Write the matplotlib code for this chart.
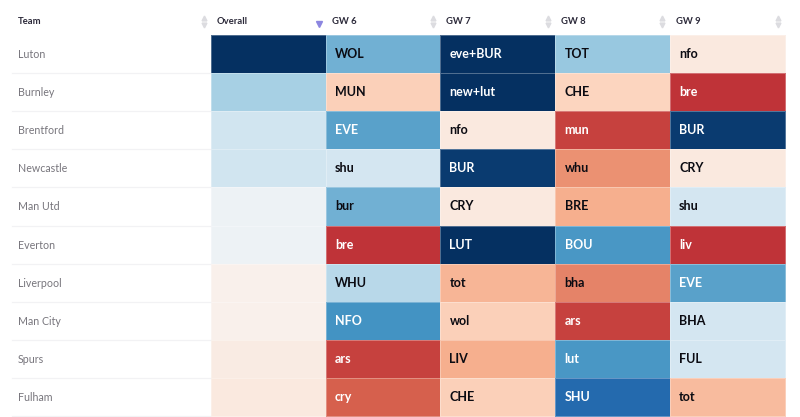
import numpy as np
import matplotlib
matplotlib.use("Agg")
import matplotlib.pyplot as plt

plt.rcParams['font.family'] = ['Lato', 'DejaVu Sans']

teams = ["Luton", "Burnley", "Brentford", "Newcastle", "Man Utd",
         "Everton", "Liverpool", "Man City", "Spurs", "Fulham"]
columns = ["Overall", "GW 6", "GW 7", "GW 8", "GW 9"]

# ease score, 0 = hard (red), 1 = easy (navy)
overall_score = [1.0, 0.665, 0.60, 0.60, 0.525, 0.525, 0.475, 0.475, 0.46, 0.45]

gw6_fixtures = ["WOL", "MUN", "EVE", "shu", "bur", "bre", "WHU", "NFO", "ars", "cry"]
gw6_score = [0.74, 0.38, 0.77, 0.59, 0.74, 0.14, 0.64, 0.80, 0.16, 0.20]

gw7_fixtures = ["eve+BUR", "new+lut", "nfo", "BUR", "CRY", "LUT", "tot", "wol", "LIV", "CHE"]
gw7_score = [1.0, 1.0, 0.45, 0.98, 0.45, 1.0, 0.33, 0.38, 0.32, 0.38]

gw8_fixtures = ["TOT", "CHE", "mun", "whu", "BRE", "BOU", "bha", "ars", "lut", "SHU"]
gw8_score = [0.69, 0.39, 0.16, 0.27, 0.32, 0.79, 0.25, 0.16, 0.79, 0.89]

gw9_fixtures = ["nfo", "bre", "BUR", "CRY", "shu", "liv", "EVE", "BHA", "FUL", "tot"]
gw9_score = [0.45, 0.14, 0.98, 0.45, 0.59, 0.14, 0.77, 0.59, 0.59, 0.34]

# layout in pixels
x_edges = np.array([210.5, 325.5, 440, 555, 669.5, 785])
y_edges = 35 + 38.1 * np.arange(len(teams) + 1)

fig = plt.figure(figsize=(8, 4.17), dpi=100)
ax = fig.add_axes([0, 0, 1, 1])
ax.set_xlim(0, 800)
ax.set_ylim(417, 0)
ax.axis("off")

scores = np.column_stack([overall_score, gw6_score, gw7_score, gw8_score, gw9_score])
fixtures = [gw6_fixtures, gw7_fixtures, gw8_fixtures, gw9_fixtures]

ax.pcolormesh(x_edges, y_edges, scores, cmap="RdBu", vmin=0, vmax=1,
              edgecolors=(1, 1, 1, 0.3), linewidth=0.5)

for i, team in enumerate(teams):
    y_mid = (y_edges[i] + y_edges[i + 1]) / 2
    ax.text(18, y_mid + 0.5, team, fontsize=7.7, color="#77757c", va="center", ha="left")
    ax.plot([12, 210], [y_edges[i + 1], y_edges[i + 1]], color="#f2f2f4", lw=0.9)
    for j, col in enumerate(fixtures):
        s = scores[i, j + 1]
        txt_color = "white" if (s > 0.76 or s < 0.22) else "#0b0b12"
        ax.text(x_edges[j + 1] + 9.5, y_mid, col[i], fontsize=9, fontweight="bold",
                color=txt_color, va="center", ha="left")

# header row
ax.text(18, 21, "Team", fontsize=6.8, fontweight="bold", color="#2c2a3a", va="center")
ax.plot([204], [18], marker="^", ms=3.5, color="#dcdce0", ls="none")
ax.plot([204], [24.5], marker="v", ms=3.5, color="#dcdce0", ls="none")
for k, name in enumerate(columns):
    ax.text(x_edges[k] + 6, 21, name, fontsize=6.8, fontweight="bold", color="#2c2a3a", va="center")
    xa = x_edges[k + 1] - 7.5
    if k == 0:
        ax.plot([xa + 1], [24], marker="v", ms=4, color="#8c86e0", ls="none")
    else:
        ax.plot([xa], [18], marker="^", ms=3.5, color="#dcdce0", ls="none")
        ax.plot([xa], [24.5], marker="v", ms=3.5, color="#dcdce0", ls="none")

fig.savefig("out.png", dpi=100)
